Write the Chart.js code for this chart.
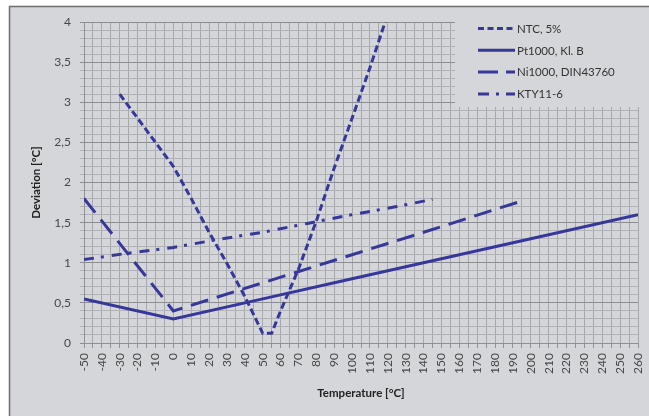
<!DOCTYPE html>
<html><head><meta charset="utf-8">
<script src="https://cdn.jsdelivr.net/npm/chart.js@4.4.1/dist/chart.umd.min.js"></script>
<style>html,body{margin:0;padding:0;background:#fff}#wrap{width:649px;height:416px}</style>
</head><body><div id="wrap"><canvas id="c" width="649" height="416"></canvas></div>
<script>
// Data
const seriesNames = ['NTC, 5%', 'Pt1000, Kl. B', 'Ni1000, DIN43760', 'KTY11-6'];
const ntcT   = [-30, -20, -10, 0, 10, 20, 30, 40, 50, 55, 60, 70, 80, 90, 100, 110, 120];
const ntcDev = [3.1, 2.8, 2.5, 2.2, 1.8, 1.38, 0.99, 0.58, 0.12, 0.12, 0.40, 0.92, 1.52, 2.18, 2.80, 3.43, 4.1];
const ptT    = [-50, 0, 50, 100, 150, 200, 260];
const ptDev  = [0.55, 0.30, 0.55, 0.80, 1.05, 1.30, 1.60];
const niT    = [-50, 0, 50, 100, 150, 195];
const niDev  = [1.80, 0.40, 0.75, 1.10, 1.45, 1.77];
const ktyT   = [-50, -25, 0, 25, 50, 75, 100, 125, 145];
const ktyDev = [1.04, 1.12, 1.19, 1.29, 1.38, 1.49, 1.60, 1.70, 1.79];
const xMin = -50, xMax = 260, xStep = 5, xLabelStep = 10;
const yMin = 0, yMax = 4, yStep = 0.1, yLabelStep = 0.5;
const xTitle = 'Temperature [°C]';
const yTitle = 'Deviation [°C]';

const LINE = '#37379b';
const BG = '#d4d6d9';
const dashes = [[7, 3.5], [], [18, 9], [10, 7, 3, 8]];
const legendDashes = [[6, 3.5], [], [20, 8], [11, 7, 3, 7]];

function pts(xs, ys) { return xs.map((x, i) => ({x: x, y: ys[i]})); }
const seriesData = [pts(ntcT, ntcDev), pts(ptT, ptDev), pts(niT, niDev), pts(ktyT, ktyDev)];

const datasets = seriesNames.map((n, i) => ({
  label: n,
  data: seriesData[i],
  borderColor: LINE,
  backgroundColor: LINE,
  borderWidth: 3,
  borderDash: dashes[i],
  borderCapStyle: 'butt',
  pointRadius: 0,
  tension: 0,
  fill: false
}));

const framePlugin = {
  id: 'frame',
  beforeDraw(chart) {
    const c = chart.ctx;
    c.save();
    c.fillStyle = '#ffffff';
    c.fillRect(0, 0, chart.width, chart.height);
    c.fillStyle = BG;
    c.fillRect(9, 6, chart.width - 9, chart.height - 6);
    c.strokeStyle = '#6e6e6e';
    c.lineWidth = 1.5;
    c.beginPath();
    c.moveTo(9.5, chart.height);
    c.lineTo(9.5, 6.5);
    c.lineTo(chart.width, 6.5);
    c.stroke();
    c.restore();
  }
};

const legendPlugin = {
  id: 'customLegend',
  afterDatasetsDraw(chart) {
    const c = chart.ctx;
    c.save();
    c.fillStyle = BG;
    c.fillRect(455, 18, chart.chartArea.right - 455 + 4, 89);
    c.font = '11.5px Lato, "Open Sans", sans-serif';
    c.textBaseline = 'middle';
    c.textAlign = 'left';
    seriesNames.forEach((n, i) => {
      const y = 28.5 + i * 21.8;
      c.strokeStyle = LINE;
      c.lineWidth = 3;
      c.lineCap = 'butt';
      c.setLineDash(legendDashes[i]);
      c.beginPath();
      c.moveTo(478, y);
      c.lineTo(515, y);
      c.stroke();
      c.setLineDash([]);
      c.fillStyle = '#333333';
      c.fillText(n, 517, y + 0.5);
    });
    c.restore();
  }
};

function isMult(v, step) {
  const r = v / step;
  return Math.abs(r - Math.round(r)) < 1e-6;
}

new Chart(document.getElementById('c'), {
  type: 'line',
  data: { datasets: datasets },
  plugins: [framePlugin, legendPlugin],
  options: {
    responsive: false,
    animation: false,
    devicePixelRatio: 1,
    layout: { padding: { left: 0, right: 11, top: 22, bottom: 0 } },
    plugins: { legend: { display: false }, tooltip: { enabled: false } },
    scales: {
      x: {
        type: 'linear',
        min: xMin, max: xMax,
        afterFit(s) { s.height = 73; s.paddingRight = 0; s.paddingLeft = 0; },
        ticks: {
          stepSize: xStep,
          autoSkip: false,
          minRotation: 90, maxRotation: 90,
          padding: 5,
          color: '#474747',
          font: { family: 'Lato, "Open Sans", sans-serif', size: 12 },
          callback(v) { return isMult(v, xLabelStep) ? String(Math.round(v)) : ''; }
        },
        grid: { color: '#a6a8ab', lineWidth: 1, tickLength: 5, tickColor: '#8f9195' },
        border: { color: '#8f9195', width: 1 },
        title: {
          display: true, text: xTitle, color: '#222',
          font: { family: 'Lato, "Open Sans", sans-serif', size: 11.5, weight: 'bold' },
          padding: { top: 0, bottom: 16 }
        }
      },
      y: {
        type: 'linear',
        min: yMin, max: yMax,
        afterFit(s) { s.width = 84; s.paddingTop = 0; s.paddingBottom = 0; },
        ticks: {
          stepSize: yStep,
          autoSkip: false,
          padding: 9,
          color: '#474747',
          font: { family: 'Lato, "Open Sans", sans-serif', size: 12 },
          callback(v) {
            const r = Math.round(v * 10) / 10;
            return isMult(r, yLabelStep) ? String(r).replace('.', ',') : '';
          }
        },
        grid: {
          color(ctx) { return isMult(Math.round(ctx.tick.value * 10) / 10, yLabelStep) ? '#8b8d91' : '#b0b2b5'; },
          tickColor(ctx) { return isMult(Math.round(ctx.tick.value * 10) / 10, yLabelStep) ? '#8b8d91' : '#b0b2b5'; },
          lineWidth: 1, tickLength: 4
        },
        border: { color: '#8f9195', width: 1 },
        title: {
          display: true, text: yTitle, color: '#222',
          font: { family: 'Lato, "Open Sans", sans-serif', size: 11.5, weight: 'bold' },
          padding: { top: 29, bottom: 0 }
        }
      }
    }
  }
});
</script>
</body></html>
